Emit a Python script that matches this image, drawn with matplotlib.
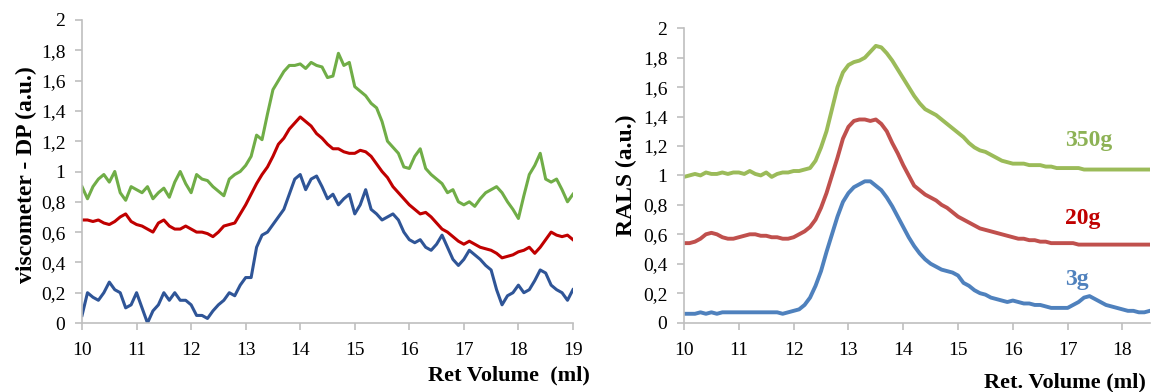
import numpy as np
import matplotlib
matplotlib.use('Agg')
import matplotlib.pyplot as plt

# sampling grid (ml)
vol_left = np.round(np.arange(10.0, 19.01, 0.1), 2)
vol_right = np.round(np.arange(10.0, 18.51, 0.1), 2)

visc_350g = [0.90, 0.82, 0.90, 0.95, 0.98, 0.93, 1.00, 0.86, 0.81, 0.90,
             0.88, 0.86, 0.90, 0.82, 0.86, 0.89, 0.83, 0.93, 1.00, 0.92,
             0.86, 0.98, 0.95, 0.94, 0.90, 0.87, 0.84, 0.95, 0.98, 1.00,
             1.04, 1.10, 1.24, 1.21, 1.38, 1.54, 1.60, 1.66, 1.70, 1.70,
             1.71, 1.68, 1.72, 1.70, 1.69, 1.62, 1.63, 1.78, 1.70, 1.72,
             1.56, 1.53, 1.50, 1.45, 1.42, 1.33, 1.20, 1.16, 1.12, 1.03,
             1.02, 1.10, 1.15, 1.02, 0.98, 0.95, 0.92, 0.86, 0.88, 0.80,
             0.78, 0.80, 0.77, 0.82, 0.86, 0.88, 0.90, 0.86, 0.80, 0.75,
             0.69, 0.84, 0.98, 1.04, 1.12, 0.95, 0.93, 0.95, 0.88, 0.80,
             0.85]
visc_20g = [0.68, 0.68, 0.67, 0.68, 0.66, 0.65, 0.67, 0.70, 0.72, 0.67,
            0.65, 0.64, 0.62, 0.60, 0.66, 0.68, 0.64, 0.62, 0.62, 0.64,
            0.62, 0.60, 0.60, 0.59, 0.57, 0.60, 0.64, 0.65, 0.66, 0.72,
            0.78, 0.85, 0.92, 0.98, 1.03, 1.10, 1.18, 1.22, 1.28, 1.32,
            1.36, 1.33, 1.30, 1.25, 1.22, 1.18, 1.15, 1.15, 1.13, 1.12,
            1.12, 1.14, 1.13, 1.10, 1.05, 1.00, 0.96, 0.90, 0.86, 0.82,
            0.78, 0.75, 0.72, 0.73, 0.70, 0.66, 0.62, 0.60, 0.57, 0.54,
            0.52, 0.54, 0.52, 0.50, 0.49, 0.48, 0.46, 0.43, 0.44, 0.45,
            0.47, 0.48, 0.50, 0.46, 0.50, 0.55, 0.60, 0.58, 0.57, 0.58,
            0.55]
visc_3g = [0.05, 0.20, 0.17, 0.15, 0.20, 0.27, 0.22, 0.20, 0.10, 0.12,
           0.20, 0.10, 0.00, 0.08, 0.12, 0.20, 0.15, 0.20, 0.15, 0.15,
           0.12, 0.05, 0.05, 0.03, 0.08, 0.12, 0.15, 0.20, 0.18, 0.25,
           0.30, 0.30, 0.50, 0.58, 0.60, 0.65, 0.70, 0.75, 0.85, 0.95,
           0.98, 0.88, 0.95, 0.97, 0.90, 0.82, 0.85, 0.78, 0.82, 0.85,
           0.72, 0.78, 0.88, 0.75, 0.72, 0.68, 0.70, 0.72, 0.68, 0.60,
           0.55, 0.53, 0.55, 0.50, 0.48, 0.52, 0.58, 0.50, 0.42, 0.38,
           0.42, 0.48, 0.45, 0.42, 0.38, 0.35, 0.22, 0.12, 0.18, 0.20,
           0.25, 0.20, 0.22, 0.28, 0.35, 0.33, 0.25, 0.22, 0.20, 0.15,
           0.22]

rals_350g = [0.99, 1.00, 1.01, 1.00, 1.02, 1.01, 1.01, 1.02, 1.01, 1.02,
             1.02, 1.01, 1.03, 1.01, 1.00, 1.02, 0.99, 1.01, 1.02, 1.02,
             1.03, 1.03, 1.04, 1.05, 1.10, 1.19, 1.30, 1.45, 1.60, 1.70,
             1.75, 1.77, 1.78, 1.80, 1.84, 1.88, 1.87, 1.83, 1.78, 1.72,
             1.66, 1.60, 1.54, 1.49, 1.45, 1.43, 1.41, 1.38, 1.35, 1.32,
             1.29, 1.26, 1.22, 1.19, 1.17, 1.16, 1.14, 1.12, 1.10, 1.09,
             1.08, 1.08, 1.08, 1.07, 1.07, 1.07, 1.06, 1.06, 1.05, 1.05,
             1.05, 1.05, 1.05, 1.04, 1.04, 1.04, 1.04, 1.04, 1.04, 1.04,
             1.04, 1.04, 1.04, 1.04, 1.04, 1.04]
rals_20g = [0.54, 0.54, 0.55, 0.57, 0.60, 0.61, 0.60, 0.58, 0.57, 0.57,
            0.58, 0.59, 0.60, 0.60, 0.59, 0.59, 0.58, 0.58, 0.57, 0.57,
            0.58, 0.60, 0.62, 0.65, 0.70, 0.78, 0.88, 1.00, 1.12, 1.25,
            1.33, 1.37, 1.38, 1.38, 1.37, 1.38, 1.35, 1.30, 1.22, 1.15,
            1.07, 1.00, 0.93, 0.90, 0.87, 0.85, 0.83, 0.80, 0.78, 0.75,
            0.72, 0.70, 0.68, 0.66, 0.64, 0.63, 0.62, 0.61, 0.60, 0.59,
            0.58, 0.57, 0.57, 0.56, 0.56, 0.55, 0.55, 0.54, 0.54, 0.54,
            0.54, 0.54, 0.53, 0.53, 0.53, 0.53, 0.53, 0.53, 0.53, 0.53,
            0.53, 0.53, 0.53, 0.53, 0.53, 0.53]
rals_3g = [0.06, 0.06, 0.06, 0.07, 0.06, 0.07, 0.06, 0.07, 0.07, 0.07,
           0.07, 0.07, 0.07, 0.07, 0.07, 0.07, 0.07, 0.07, 0.06, 0.07,
           0.08, 0.09, 0.12, 0.17, 0.25, 0.35, 0.48, 0.60, 0.72, 0.82,
           0.88, 0.92, 0.94, 0.96, 0.96, 0.93, 0.90, 0.85, 0.79, 0.72,
           0.65, 0.58, 0.52, 0.47, 0.43, 0.40, 0.38, 0.36, 0.35, 0.34,
           0.32, 0.27, 0.25, 0.22, 0.20, 0.19, 0.17, 0.16, 0.15, 0.14,
           0.15, 0.14, 0.13, 0.13, 0.12, 0.12, 0.11, 0.10, 0.10, 0.10,
           0.10, 0.12, 0.14, 0.17, 0.18, 0.16, 0.14, 0.12, 0.11, 0.10,
           0.09, 0.08, 0.08, 0.07, 0.07, 0.08]

labels = ['350g', '20g', '3g']
label_y = [1.24, 0.71, 0.29]

plt.rcParams['font.family'] = ['Liberation Serif', 'DejaVu Serif']

fig = plt.figure(figsize=(11.57, 3.92), dpi=100)
ax1 = fig.add_axes([0.0709, 0.176, 0.4243, 0.773])
ax2 = fig.add_axes([0.5912, 0.177, 0.4026, 0.751])

ax1.plot(vol_left, visc_350g, color='#70AD47', lw=2.2)
ax1.plot(vol_left, visc_20g, color='#C00000', lw=2.2)
ax1.plot(vol_left, visc_3g, color='#2F5597', lw=2.2)

ax2.plot(vol_right, rals_350g, color='#9BBB59', lw=2.8)
ax2.plot(vol_right, rals_20g, color='#C0504D', lw=2.8)
ax2.plot(vol_right, rals_3g, color='#4F81BD', lw=2.8)

label_colors = ['#8DB255', '#C00000', '#4F81BD']
for lab, ly, c in zip(labels, label_y, label_colors):
    ax2.text(16.95, ly, lab, color=c, fontsize=17, fontweight='bold',
             va='center', ha='left')

yticks = [0, 0.2, 0.4, 0.6, 0.8, 1, 1.2, 1.4, 1.6, 1.8, 2]
ytick_labels = ['0', '0,2', '0,4', '0,6', '0,8', '1', '1,2', '1,4', '1,6', '1,8', '2']

for ax, xmax, xt in [(ax1, 19, range(10, 20)), (ax2, 18.5, range(10, 19))]:
    ax.set_xlim(10, xmax)
    ax.set_ylim(0, 2)
    ax.set_xticks(list(xt))
    ax.set_yticks(yticks)
    ax.set_yticklabels(ytick_labels)
    for s in ['top', 'right']:
        ax.spines[s].set_visible(False)
    for s in ['left', 'bottom']:
        ax.spines[s].set_color('#BFBFBF')
        ax.spines[s].set_linewidth(1.2)
    ax.tick_params(axis='both', colors='#BFBFBF', labelcolor='black',
                   labelsize=14, length=5, width=1.2, direction='out', pad=7)
    ax.tick_params(axis='x', pad=9)

ax1.set_ylabel('viscometer - DP (a.u.)', fontsize=17, fontweight='bold', va='center')
ax1.yaxis.set_label_coords(-0.114, 0.49)
ax2.set_ylabel('RALS (a.u.)', fontsize=17, fontweight='bold', va='center')
ax2.yaxis.set_label_coords(-0.124, 0.5)
ax1.set_xlabel('Ret Volume  (ml)', fontsize=16, fontweight='bold', va='center')
ax1.xaxis.set_label_coords(0.87, -0.172)
ax2.set_xlabel('Ret. Volume (ml)', fontsize=16, fontweight='bold', va='center')
ax2.xaxis.set_label_coords(0.818, -0.203)

fig.savefig('out.png', dpi=100)
